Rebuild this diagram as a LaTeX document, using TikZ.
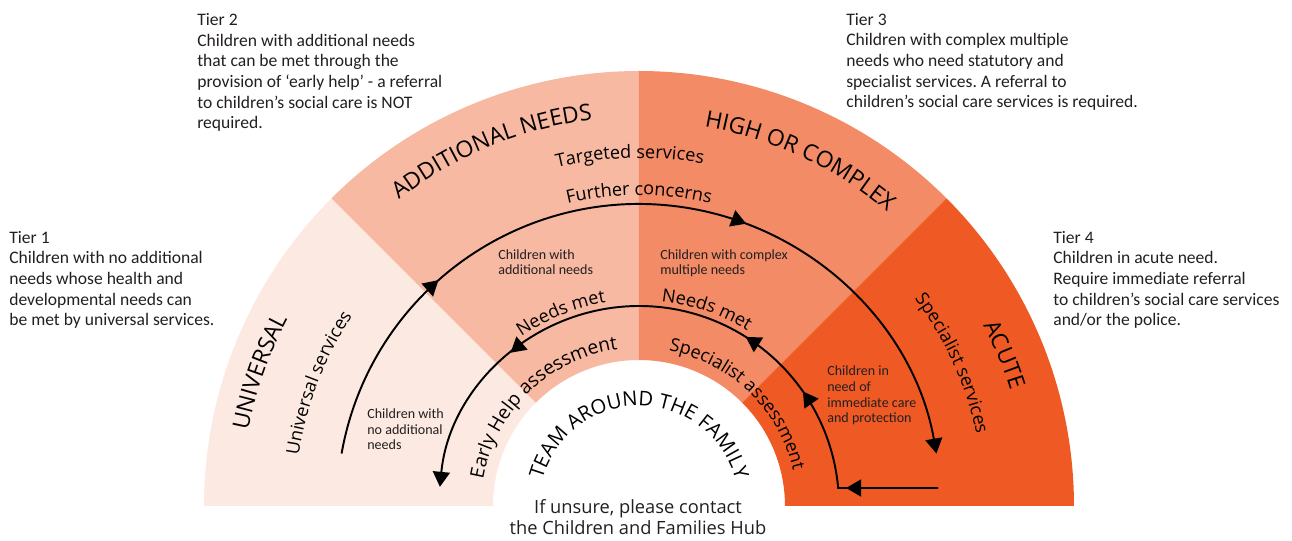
\documentclass[tikz,border=0pt]{standalone}
\usepackage{fontspec}
\setmainfont{Carlito}
\newfontfamily\labelfont{Open Sans}
\usetikzlibrary{arrows.meta,decorations.markings,decorations.text}
\frenchspacing
\definecolor{universal}{HTML}{FCEAE2}
\definecolor{additional}{HTML}{F7B9A2}
\definecolor{highcomplex}{HTML}{F28B66}
\definecolor{acute}{HTML}{EF5A24}
\definecolor{inktext}{HTML}{231F20}
\newcommand{\bigfont}{\labelfont\fontsize{13}{15}\selectfont}
\newcommand{\midfont}{\labelfont\fontsize{10.3}{12}\selectfont}
\newcommand{\helpfont}{\labelfont\fontsize{10.9}{12}\selectfont}
\newcommand{\teamfont}{\labelfont\fontsize{11.5}{14}\selectfont}
\newcommand{\flowtip}{\arrow{Triangle[length=0.3cm,width=0.34cm]}}
\newcommand{\arclabel}[5]{\path[decorate, decoration={text along path, text align=center, text={|#4|#5}}] (#2:#1) arc[start angle=#2, end angle=#3, radius=#1];}
\tikzstyle{tiertext} = [anchor=base west, align=left, inner sep=0pt, text=inktext, font=\fontsize{10}{11.8}\selectfont]
\tikzstyle{smalltext} = [anchor=base west, align=left, inner sep=0pt, text=inktext, font=\fontsize{8}{9.1}\selectfont]
\tikzstyle{hubtext} = [anchor=base, align=center, inner sep=0pt, text=inktext, font=\labelfont\fontsize{10.4}{12}\selectfont]
\tikzstyle{flow} = [line width=1.1pt, -{Triangle[length=0.3cm,width=0.34cm]}]

\begin{document}
\begin{tikzpicture}[x=0.02cm, y=0.02cm]
	\useasboundingbox (-639,-35) rectangle (653,506);
	\foreach \a/\c in {135/universal, 90/additional, 45/highcomplex, 0/acute}
		\fill[\c] (\a:146) -- (\a:435) arc[start angle=\a, end angle=\a+45, radius=435] -- ({\a+45}:146) arc[start angle=\a+45, end angle=\a, radius=146] -- cycle;
	
	\node[tiertext] (tier1) at (-630,180) {Tier 1\\Children with no additional\\needs whose health and\\developmental needs can\\be met by universal services.};
	\node[tiertext] (tier2) at (-442,377) {Tier 2\\Children with additional needs\\that can be met through the\\provision of ‘early help’ - a referral\\to children’s social care is NOT\\required.};
	\node[tiertext] (tier3) at (207,398) {Tier 3\\Children with complex multiple\\needs who need statutory and\\specialist services. A referral to\\children’s social care services is required.};
	\node[tiertext] (tier4) at (414,180) {Tier 4\\Children in acute need.\\Require immediate referral\\to children’s social care services\\and/or the police.};
	
	\arclabel{398}{182}{139}{\bigfont}{UNIVERSAL}
	\arclabel{389}{135}{90}{\bigfont}{ADDITIONAL NEEDS}
	\arclabel{385}{90}{40}{\bigfont}{HIGH OR COMPLEX}
	\arclabel{389}{45}{0}{\bigfont}{ACUTE}
	\arclabel{344}{181}{137}{\midfont}{Universal services}
	\arclabel{348}{121.5}{61.5}{\midfont}{Targeted services}
	\arclabel{345}{47}{2}{\midfont}{Specialist services}
	\arclabel{311}{120}{60}{\midfont}{Further concerns}
	\arclabel{206}{127}{97}{\midfont}{Needs met}
	\arclabel{206}{86}{56}{\midfont}{Needs met}
	\arclabel{158}{179}{89}{\helpfont}{Early Help assessment}
	\arclabel{158}{88}{4}{\midfont}{Specialist assessment}
	\arclabel{100}{175}{5}{\teamfont}{TEAM AROUND THE FAMILY}
	
	\node[smalltext] (noneeds) at (-272,56) {Children with\\no additional\\needs};
	\node[smalltext] (addneeds) at (-141,231) {Children with\\additional needs};
	\node[smalltext] (complexneeds) at (21,231) {Children with complex\\multiple needs};
	\node[smalltext] (immediate) at (188,83) {Children in\\need of\\immediate care\\and protection};
	
	\node[hubtext] (hub) at (-1,-29) {If unsure, please contact\\the Children and Families Hub};
	
	\coordinate (concernstart) at (170:302);
	\draw[flow, postaction={decorate}, decoration={markings, mark=at position 0.24 with {\flowtip}, mark=at position 0.63 with {\flowtip}}] (concernstart) arc[start angle=170, end angle=10, radius=302];
	\coordinate (needstart) at (299,18);
	\draw[flow, postaction={decorate}, decoration={markings, mark=at position 0.133 with {\flowtip}, mark=at position 0.295 with {\flowtip}, mark=at position 0.41 with {\flowtip}, mark=at position 0.775 with {\flowtip}}] (needstart) -- (5.16:200) arc[start angle=5.16, end angle=174.5, radius=200];
\end{tikzpicture}
\end{document}
